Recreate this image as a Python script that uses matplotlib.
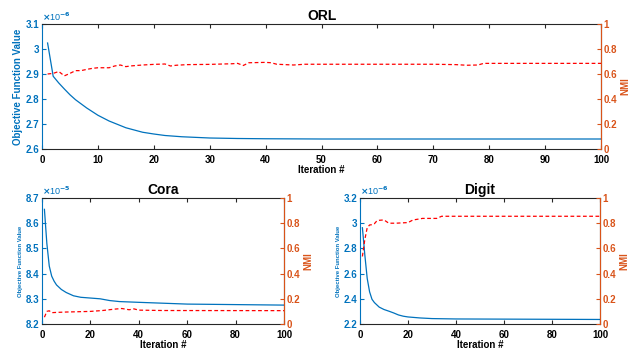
import matplotlib.pyplot as plt
from matplotlib.ticker import FuncFormatter

plt.rcParams['font.family'] = ['Liberation Sans', 'DejaVu Sans']
plt.rcParams['font.weight'] = 'bold'
plt.rcParams['axes.labelweight'] = 'bold'
plt.rcParams['axes.titleweight'] = 'bold'

BLUE = '#0072BD'
ORANGE = '#D95319'
GRAY = '#262626'

# ORL
orl_obj_it = [1, 2, 3, 4, 5, 6, 8, 10, 12, 15, 18, 20, 22, 25, 28, 30, 35, 40, 50, 60, 80, 100]
orl_obj = [3.024e-6, 2.891e-6, 2.864e-6, 2.840e-6, 2.817e-6, 2.797e-6, 2.764e-6, 2.735e-6,
           2.712e-6, 2.685e-6, 2.667e-6, 2.660e-6, 2.654e-6, 2.649e-6, 2.646e-6, 2.644e-6,
           2.642e-6, 2.641e-6, 2.640e-6, 2.640e-6, 2.640e-6, 2.640e-6]
orl_nmi_it = [1, 2, 3, 4, 5, 6, 7, 8, 9, 10, 12, 13, 14, 15, 16, 18, 20, 22, 23, 24, 26,
              30, 34, 35, 36, 37, 40, 41, 42, 45, 47, 50, 60, 70, 74, 76, 78, 79, 100]
orl_nmi = [0.600, 0.605, 0.620, 0.585, 0.605, 0.627, 0.627, 0.637, 0.645, 0.650, 0.650,
           0.664, 0.672, 0.659, 0.665, 0.672, 0.677, 0.680, 0.664, 0.670, 0.675,
           0.677, 0.682, 0.685, 0.668, 0.690, 0.693, 0.690, 0.678, 0.672, 0.678, 0.678,
           0.678, 0.678, 0.675, 0.670, 0.672, 0.685, 0.685]

# Cora
cora_obj_it = [1, 2, 3, 4, 5, 6, 8, 10, 13, 16, 20, 24, 28, 32, 40, 60, 80, 100]
cora_obj = [8.655e-5, 8.52e-5, 8.43e-5, 8.39e-5, 8.37e-5, 8.355e-5, 8.337e-5, 8.325e-5,
            8.312e-5, 8.306e-5, 8.303e-5, 8.300e-5, 8.293e-5, 8.289e-5, 8.286e-5,
            8.279e-5, 8.277e-5, 8.275e-5]
cora_nmi_it = [1, 2, 3, 4, 6, 10, 20, 25, 30, 33, 36, 38, 40, 50, 100]
cora_nmi = [0.054, 0.10, 0.105, 0.09, 0.092, 0.095, 0.10, 0.107, 0.118, 0.123, 0.113,
            0.12, 0.11, 0.107, 0.106]

# Digit
digit_obj_it = [1, 2, 3, 4, 5, 6, 8, 10, 12, 14, 16, 18, 20, 25, 30, 40, 100]
digit_obj = [2.964e-6, 2.75e-6, 2.562e-6, 2.455e-6, 2.396e-6, 2.37e-6, 2.334e-6, 2.315e-6,
             2.302e-6, 2.288e-6, 2.272e-6, 2.262e-6, 2.256e-6, 2.248e-6, 2.243e-6,
             2.240e-6, 2.236e-6]
digit_nmi_it = [1, 2, 3, 4, 5, 6, 7, 8, 10, 12, 15, 20, 22, 26, 32, 34, 100]
digit_nmi = [0.536, 0.67, 0.764, 0.786, 0.788, 0.796, 0.818, 0.823, 0.826, 0.80, 0.80,
             0.805, 0.825, 0.838, 0.838, 0.855, 0.855]

W, H = 644, 349
fig = plt.figure(figsize=(W / 100, H / 100), dpi=100)


def px_axes(left, top, right, bottom):
    return fig.add_axes([left / W, (H - bottom) / H, (right - left) / W, (bottom - top) / H])


def panel(ax, title, it, obj, nit, nmi, ylim, yticks, scale, exp, ylab_size):
    ax.plot(it, obj, color=BLUE, lw=0.9)
    ax.set_xlim(0, 100)
    ax.set_ylim(*ylim)
    ax.set_yticks(yticks)
    ax.yaxis.set_major_formatter(FuncFormatter(lambda v, p: f'{v / scale:g}'))
    ax.set_title(title, fontsize=10, pad=3)
    ax.set_xlabel('Iteration #', fontsize=7, labelpad=0.5)
    ax.set_ylabel('Objective Function Value', fontsize=ylab_size, color=BLUE, labelpad=2)
    ax.tick_params(axis='y', colors=BLUE, labelsize=7, direction='in', length=3, pad=2)
    ax.tick_params(axis='x', colors=GRAY, labelcolor='black', labelsize=7,
                   direction='in', length=3, pad=4, top=True)
    ax.spines['left'].set_color(BLUE)
    ax.spines['top'].set_color(GRAY)
    ax.spines['bottom'].set_color(GRAY)
    for s in ax.spines.values():
        s.set_linewidth(0.8)
    ax.text(0.0, 1.005, r'$\times$10$^{%d}$' % exp, transform=ax.transAxes, color=BLUE,
            fontsize=6.5, fontweight='normal', ha='left', va='bottom')

    ax2 = ax.twinx()
    ax2.plot(nit, nmi, 'r--', lw=0.9, dashes=(3, 2))
    ax2.set_ylim(0, 1)
    ax2.set_yticks([0, 0.2, 0.4, 0.6, 0.8, 1])
    ax2.yaxis.set_major_formatter(FuncFormatter(lambda v, p: f'{v:g}'))
    ax2.set_ylabel('NMI', fontsize=7, color=ORANGE, labelpad=2)
    ax2.tick_params(axis='y', colors=ORANGE, labelsize=7, direction='in', length=3, pad=2)
    ax2.spines['right'].set_color(ORANGE)
    ax2.spines['left'].set_visible(False)
    ax2.spines['top'].set_visible(False)
    ax2.spines['bottom'].set_visible(False)
    ax2.spines['right'].set_linewidth(0.8)


ax1 = px_axes(42, 24, 601, 149)
panel(ax1, 'ORL', orl_obj_it, orl_obj, orl_nmi_it, orl_nmi,
      (2.6e-6, 3.1e-6), [2.6e-6, 2.7e-6, 2.8e-6, 2.9e-6, 3.0e-6, 3.1e-6], 1e-6, -6, 7)
ax1.set_xticks(range(0, 101, 10))

ax3 = px_axes(42, 198, 284, 324)
panel(ax3, 'Cora', cora_obj_it, cora_obj, cora_nmi_it, cora_nmi,
      (8.2e-5, 8.7e-5), [8.2e-5, 8.3e-5, 8.4e-5, 8.5e-5, 8.6e-5, 8.7e-5], 1e-5, -5, 4.3)
ax3.set_xticks(range(0, 101, 20))

ax4 = px_axes(360, 198, 600, 324)
panel(ax4, 'Digit', digit_obj_it, digit_obj, digit_nmi_it, digit_nmi,
      (2.2e-6, 3.2e-6), [2.2e-6, 2.4e-6, 2.6e-6, 2.8e-6, 3.0e-6, 3.2e-6], 1e-6, -6, 4.3)
ax4.set_xticks(range(0, 101, 20))

fig.savefig('out.png', dpi=100)
